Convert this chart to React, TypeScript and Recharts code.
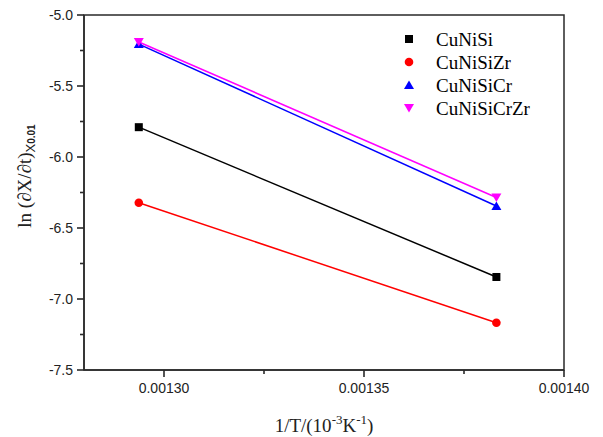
import { Customized, Line, LineChart, ReferenceArea, XAxis, YAxis } from 'recharts'

// 1/T values (two temperatures) and ln(dX/dt) at X = 0.01
const invTemp = [0.0012937, 0.0013831]
const cuNiSi = [-5.79, -6.845]
const cuNiSiZr = [-6.322, -7.167]
const cuNiSiCr = [-5.205, -6.345]
const cuNiSiCrZr = [-5.19, -6.285]

const seriesNames = ['CuNiSi', 'CuNiSiZr', 'CuNiSiCr', 'CuNiSiCrZr']
const seriesColors = ['#000000', '#ff0000', '#0000ff', '#ff00ff']

const xDomain = [0.00128, 0.0014]
const yDomain = [-7.5, -5.0]
const xMajorTicks = [0.0013, 0.00135, 0.0014]
const xMinorTicks = [0.001325, 0.001375]
const yMajorTicks = [-7.5, -7.0, -6.5, -6.0, -5.5, -5.0]
const yMinorTicks = [-7.25, -6.75, -6.25, -5.75, -5.25]

const rows = invTemp.map((x, i) => ({
  x,
  cuNiSi: cuNiSi[i],
  cuNiSiZr: cuNiSiZr[i],
  cuNiSiCr: cuNiSiCr[i],
  cuNiSiCrZr: cuNiSiCrZr[i],
}))
const keys = ['cuNiSi', 'cuNiSiZr', 'cuNiSiCr', 'cuNiSiCrZr']

const AXIS = '#2a2a2a'
const SANS = '"Liberation Sans", Arial, sans-serif'
const SERIF = '"Liberation Serif", "Times New Roman", serif'
const TICK_SIZE = 7
const MINOR_CUT = 3

const isIn = (list: number[], v: number) => list.some((t) => Math.abs(t - v) < 1e-9)

function Marker({ kind, cx, cy, color }: { kind: number; cx: number; cy: number; color: string }) {
  if (cx == null || cy == null) return null
  if (kind === 0) return <rect x={cx - 4} y={cy - 4} width={8} height={8} fill={color} />
  if (kind === 1) return <circle cx={cx} cy={cy} r={4.3} fill={color} />
  if (kind === 2)
    return <polygon points={`${cx},${cy - 4.5} ${cx + 5},${cy + 4} ${cx - 5},${cy + 4}`} fill={color} />
  return <polygon points={`${cx},${cy + 4.5} ${cx + 5},${cy - 4} ${cx - 5},${cy - 4}`} fill={color} />
}

// minor ticks: the axis draws full-length tick lines, the outer end is masked
function XTick(props: any) {
  const { x, y, payload } = props
  const major = isIn(xMajorTicks, payload.value)
  const tickEnd = y - 6
  return (
    <g>
      {major ? (
        <text x={x} y={y + 10} textAnchor="middle" fontFamily={SANS} fontSize={14} fill="#222">
          {payload.value.toFixed(5)}
        </text>
      ) : (
        <line x1={x} x2={x} y1={tickEnd - MINOR_CUT} y2={tickEnd + 1} stroke="#fff" strokeWidth={3} />
      )}
    </g>
  )
}

function YTick(props: any) {
  const { x, y, payload } = props
  const major = isIn(yMajorTicks, payload.value)
  const tickEnd = x + 4
  return (
    <g>
      {major ? (
        <text x={x} y={y + 5} textAnchor="end" fontFamily={SANS} fontSize={14} fill="#222">
          {payload.value.toFixed(1)}
        </text>
      ) : (
        <line x1={tickEnd - 1} x2={tickEnd + MINOR_CUT} y1={y} y2={y} stroke="#fff" strokeWidth={3} />
      )}
    </g>
  )
}

function Labels() {
  return (
    <g>
      <text
        x={31}
        y={176}
        transform="rotate(-90, 31, 176)"
        textAnchor="middle"
        fontFamily={SERIF}
        fontSize={19}
        fill="#222"
      >
        ln (∂X/∂t)
        <tspan fontFamily={SANS} fontSize={13} dy={4}>
          X
        </tspan>
        <tspan fontFamily={SANS} fontSize={10} fontWeight="bold">
          0.01
        </tspan>
      </text>
      <text x={324} y={432} textAnchor="middle" fontFamily={SERIF} fontSize={19} fill="#222">
        1/T/(10
        <tspan fontSize={13} dy={-8}>
          -3
        </tspan>
        <tspan dy={8}>K</tspan>
        <tspan fontSize={13} dy={-8}>
          -1
        </tspan>
        <tspan dy={8}>)</tspan>
      </text>
      {seriesNames.map((name, i) => (
        <g key={name}>
          <Marker kind={i} cx={409} cy={39 + i * 23} color={seriesColors[i]} />
          <text x={436} y={45.5 + i * 23} fontFamily={SERIF} fontSize={19} fill="#000">
            {name}
          </text>
        </g>
      ))}
    </g>
  )
}

export default function App() {
  return (
    <div style={{ position: 'absolute', left: 0, top: 0, background: '#fff' }}>
      <LineChart width={603} height={437} data={rows} margin={{ top: 15, right: 39, left: 24, bottom: 27 }}>
        <XAxis
          dataKey="x"
          type="number"
          domain={xDomain}
          ticks={[...xMajorTicks, ...xMinorTicks].sort()}
          interval={0}
          height={40}
          tickSize={TICK_SIZE}
          tickMargin={6}
          tickLine={{ stroke: AXIS, strokeWidth: 1.6 }}
          tick={<XTick />}
          stroke={AXIS}
          strokeWidth={1.5}
        />
        <YAxis
          type="number"
          domain={yDomain}
          ticks={[...yMajorTicks, ...yMinorTicks].sort((a, b) => a - b)}
          interval={0}
          width={60}
          tickSize={TICK_SIZE}
          tickMargin={4}
          tickLine={{ stroke: AXIS, strokeWidth: 1.6 }}
          tick={<YTick />}
          stroke={AXIS}
          strokeWidth={1.5}
        />
        <ReferenceArea
          x1={xDomain[0]}
          x2={xDomain[1]}
          y1={yDomain[0]}
          y2={yDomain[1]}
          stroke={AXIS}
          strokeWidth={1.5}
          fill="none"
          fillOpacity={0}
          ifOverflow="visible"
        />
        {keys.map((k, i) => (
          <Line
            key={k}
            dataKey={k}
            name={seriesNames[i]}
            stroke={seriesColors[i]}
            strokeWidth={1.5}
            isAnimationActive={false}
            dot={(p: any) => <Marker key={`${k}-${p.index}`} kind={i} cx={p.cx} cy={p.cy} color={seriesColors[i]} />}
            activeDot={false}
          />
        ))}
        <Customized component={<Labels />} />
      </LineChart>
    </div>
  )
}
